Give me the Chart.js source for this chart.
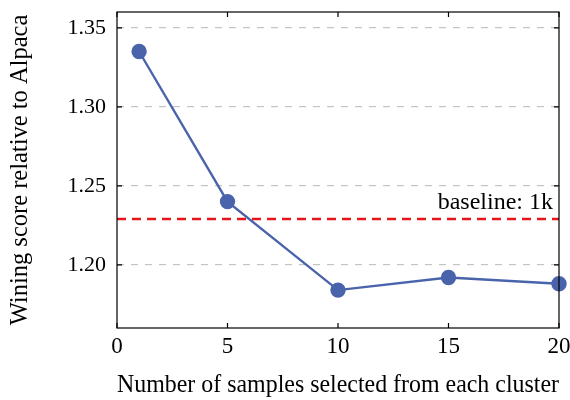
<!DOCTYPE html>
<html>
<head>
<meta charset="utf-8">
<script src="https://cdn.jsdelivr.net/npm/chart.js@4"></script>
<style>
  html, body { margin: 0; padding: 0; background: #fff; }
</style>
</head>
<body>
<canvas id="myChart" width="570" height="400"></canvas>
<script>
// data
var samplesPerCluster = [1, 5, 10, 15, 20];
var winingScore = [1.335, 1.240, 1.184, 1.192, 1.188];
var baselineScore = 1.229;
var baselineLabel = 'baseline: 1k';
var xTicks = [0, 5, 10, 15, 20];
var yTicks = [1.20, 1.25, 1.30, 1.35];

var serif = "'Liberation Serif', 'DejaVu Serif', serif";

// frame around plot + small inner ticks + baseline label
var framePlugin = {
    id: 'frame',
    afterDatasetsDraw: function (c) {
        var a = c.chartArea, ctx = c.ctx;
        var xs = c.scales.x, ys = c.scales.y;
        ctx.save();
        ctx.strokeStyle = '#000';
        ctx.lineWidth = 1.2;
        ctx.strokeRect(a.left, a.top, a.right - a.left, a.bottom - a.top);
        ctx.beginPath();
        xTicks.forEach(function (v) {
            var px = xs.getPixelForValue(v);
            ctx.moveTo(px, a.bottom); ctx.lineTo(px, a.bottom - 5);
            ctx.moveTo(px, a.top); ctx.lineTo(px, a.top + 5);
        });
        yTicks.forEach(function (v) {
            var py = ys.getPixelForValue(v);
            ctx.moveTo(a.left, py); ctx.lineTo(a.left + 5, py);
            ctx.moveTo(a.right, py); ctx.lineTo(a.right - 5, py);
        });
        ctx.stroke();
        // baseline text
        ctx.fillStyle = '#000';
        ctx.font = '24px ' + serif;
        ctx.textAlign = 'right';
        ctx.textBaseline = 'alphabetic';
        ctx.fillText(baselineLabel, a.right - 6, ys.getPixelForValue(baselineScore) - 10);
        ctx.restore();
    }
};

var chart = document.querySelector('#myChart');
var myChart = new Chart(chart, {
    type: 'line',
    data: {
        datasets: [{
            label: 'baseline',
            data: [{x: xTicks[0], y: baselineScore}, {x: xTicks[xTicks.length - 1], y: baselineScore}],
            borderColor: '#e8141c',
            borderWidth: 2.6,
            borderDash: [9, 6],
            pointRadius: 0,
            order: 2
        }, {
            label: 'score',
            data: samplesPerCluster.map(function (x, i) { return {x: x, y: winingScore[i]}; }),
            borderColor: '#4a64ab',
            backgroundColor: '#4a64ab',
            borderWidth: 2.4,
            pointRadius: 6.5,
            pointHoverRadius: 6.5,
            clip: false,
            order: 1
        }]
    },
    options: {
        responsive: false,
        animation: false,
        devicePixelRatio: 1,
        layout: { padding: { top: 12, right: 11, left: 0, bottom: 0 } },
        plugins: {
            legend: { display: false },
            tooltip: { enabled: false }
        },
        scales: {
            x: {
                type: 'linear',
                min: 0,
                max: 20,
                afterBuildTicks: function (s) { s.ticks = xTicks.map(function (v) { return {value: v}; }); },
                afterFit: function (s) { s.height = 72; s.paddingLeft = 0; s.paddingRight = 0; },
                grid: { display: false },
                border: { display: false },
                ticks: {
                    color: '#000',
                    font: { family: serif, size: 23 },
                    padding: -3,
                    maxRotation: 0
                },
                title: {
                    display: true,
                    text: 'Number of samples selected from each cluster',
                    color: '#000',
                    font: { family: serif, size: 24.5 },
                    padding: { top: 0, bottom: 0 }
                }
            },
            y: {
                type: 'linear',
                min: 1.16,
                max: 1.36,
                afterBuildTicks: function (s) { s.ticks = yTicks.map(function (v) { return {value: v}; }); },
                afterFit: function (s) { s.width = 117; s.paddingTop = 0; s.paddingBottom = 0; },
                grid: { color: '#c4c4c4', lineWidth: 1.2, drawTicks: false },
                border: { display: false, dash: [7, 7] },
                ticks: {
                    color: '#000',
                    font: { family: serif, size: 22 },
                    padding: 11,
                    callback: function (v) { return v.toFixed(2); }
                },
                title: {
                    display: true,
                    text: 'Wining score relative to Alpaca',
                    color: '#000',
                    font: { family: serif, size: 24.5 },
                    padding: { top: 6, bottom: 0 }
                }
            }
        }
    },
    plugins: [framePlugin]
});
</script>
</body>
</html>
